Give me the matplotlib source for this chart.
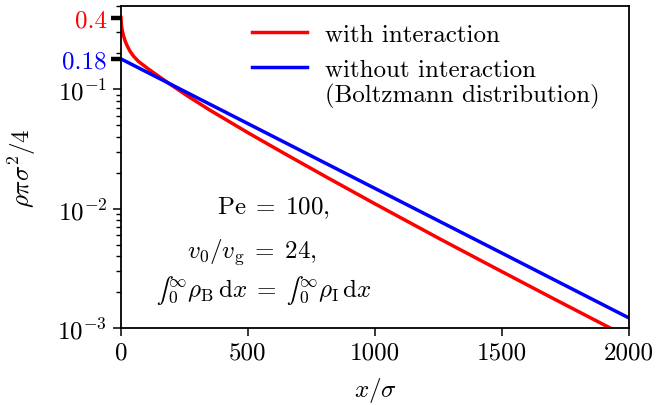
import matplotlib
matplotlib.use("Agg")
import matplotlib.pyplot as plt

plt.rcParams["font.family"] = "serif"
plt.rcParams["font.serif"] = ["cmr10", "DejaVu Serif"]
plt.rcParams["mathtext.fontset"] = "cm"
plt.rcParams["axes.formatter.use_mathtext"] = True
plt.rcParams["axes.unicode_minus"] = False

# density with interaction
x_int = [0, 1, 3, 6, 10, 17, 25, 37, 50, 69, 108, 150, 187, 265, 350, 500,
         650, 813, 1000, 1250, 1457, 1700, 2000]
rho_int = [0.40, 0.36, 0.329, 0.305, 0.281, 0.2519, 0.230, 0.2064, 0.189,
           0.1713, 0.1481, 0.1280, 0.1128, 0.0872, 0.0670, 0.0433, 0.02847,
           0.01820, 0.01098, 0.005661, 0.003312, 0.001774, 0.000828]

# Boltzmann distribution (no interaction)
x_boltz = [0, 500, 1000, 1500, 2000]
rho_boltz = [0.18, 0.0516, 0.01478, 0.00424, 0.001213]

xticks = [0, 500, 1000, 1500, 2000]
yticks = [1e-3, 1e-2, 1e-1, 0.18, 0.4]
ytick_labels = [r"$10^{-3}$", r"$10^{-2}$", r"$10^{-1}$", "0.18", "0.4"]

fs = 18

fig = plt.figure(figsize=(6.63, 4.06), dpi=100)
ax = fig.add_axes([0.1825, 0.1897, 0.7662, 0.7931])

ax.plot(x_int, rho_int, color="red", lw=2.5, label="with interaction")
ax.plot(x_boltz, rho_boltz, color="blue", lw=2.5, label="without interaction")

ax.set_yscale("log")
ax.set_xlim(0, 2000)
ax.set_ylim(1e-3, 0.5)

ax.set_xticks(xticks)
ax.set_xticklabels([str(t) for t in xticks])
ax.set_yticks(yticks)
ax.set_yticklabels(ytick_labels)
ax.tick_params(axis="both", which="major", direction="out", length=6,
               width=1.1, labelsize=fs, pad=4)
ax.tick_params(axis="y", which="minor", direction="out", length=3.5, width=1.0)
ax.tick_params(axis="x", which="minor", bottom=False)

ylabs = ax.get_yticklabels()
ylabs[3].set_color("blue")
ylabs[4].set_color("red")
for t in ax.yaxis.get_major_ticks()[3:]:
    t.tick1line.set_markeredgewidth(3.2)
    t.tick1line.set_markersize(7)

for sp in ax.spines.values():
    sp.set_linewidth(1.3)

ax.set_xlabel(r"$x/\sigma$", fontsize=fs)
ax.xaxis.set_label_coords(0.5, -0.145)
ax.set_ylabel(r"$\rho\pi\sigma^2/4$", fontsize=fs)
ax.yaxis.set_label_coords(-0.163, 0.5)

leg = ax.legend(loc="upper left", bbox_to_anchor=(0.258, 0.945), frameon=False,
                fontsize=18, handlelength=2.2, handletextpad=0.7,
                borderpad=0, borderaxespad=0, labelspacing=0.5)

fig.canvas.draw()
bb = leg.get_texts()[1].get_window_extent()
inv = ax.transAxes.inverted()
x0, y0 = inv.transform((bb.x0, bb.y0))
ax.text(x0, y0 - 0.005, "(Boltzmann distribution)", transform=ax.transAxes,
        fontsize=18, ha="left", va="top")

ax.text(0.301, 0.376, r"$\mathrm{Pe}\;=\;100,$", transform=ax.transAxes,
        fontsize=18, ha="center", va="center")
ax.text(0.258, 0.239, r"$v_0/v_\mathrm{g}\;=\;24,$", transform=ax.transAxes,
        fontsize=18, ha="center", va="center")
ax.text(0.281, 0.121,
        "$\u222b_0^\\infty \\rho_\\mathrm{B}\\,\\mathrm{d}x\\;=\\;\u222b_0^\\infty \\rho_\\mathrm{I}\\,\\mathrm{d}x$",
        transform=ax.transAxes, fontsize=18, ha="center", va="center")

fig.savefig("out.png", dpi=100)
